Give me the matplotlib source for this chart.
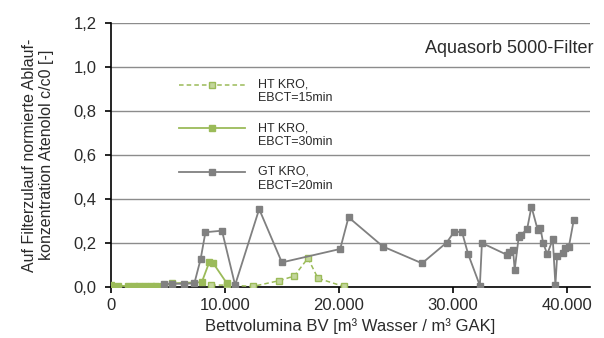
import matplotlib
matplotlib.use("Agg")
import numpy as np
import matplotlib.pyplot as plt
from matplotlib.ticker import FuncFormatter, MultipleLocator
from matplotlib.legend_handler import HandlerLine2D

# HT KRO, EBCT=15min (gestrichelt)
ht15_bv = [8800, 10200, 12460, 14760, 16080, 17280, 18160, 20400]
ht15_c = [0.010, 0.010, 0.004, 0.030, 0.051, 0.132, 0.041, 0.004]

# HT KRO, EBCT=30min
ht30_bv = [0, 600, 1500, 2000, 2500, 3000, 3500, 4000, 4600, 5350, 7980, 8650, 8950, 10180]
ht30_c = [0.012, 0.008, 0.005, 0.006, 0.005, 0.006, 0.005, 0.006, 0.008, 0.018, 0.023, 0.116, 0.112, 0.018]

# GT KRO, EBCT=20min
gt_bv = [4650, 5400, 6450, 7330, 7880, 8300, 9750, 10900, 13010, 15000, 20110, 20840,
         23860, 27280, 29440, 30110, 30790, 31320, 32350, 32530, 34740, 34940, 35260,
         35400, 35750, 35960, 36490, 36870, 37420, 37660, 37890, 38250, 38740, 38970,
         39120, 39610, 39850, 40140, 40580]
gt_c = [0.015, 0.016, 0.016, 0.018, 0.128, 0.250, 0.257, 0.010, 0.355, 0.113, 0.174, 0.318,
        0.185, 0.109, 0.203, 0.253, 0.250, 0.151, 0.008, 0.201, 0.147, 0.162, 0.170,
        0.079, 0.227, 0.238, 0.264, 0.366, 0.260, 0.268, 0.203, 0.150, 0.218, 0.010,
        0.142, 0.155, 0.177, 0.182, 0.306]

green = "#9bbb59"
grey = "#808080"
txt = "#2a2a2a"


class FirstLineHandler(HandlerLine2D):
    # Legendensymbol auf Hoehe der ersten Textzeile setzen
    def create_artists(self, legend, orig_handle, xdescent, ydescent,
                       width, height, fontsize, trans):
        arts = super().create_artists(legend, orig_handle, xdescent, ydescent,
                                      width, height, fontsize, trans)
        for a in arts:
            a.set_ydata(np.asarray(a.get_ydata(), dtype=float) + 0.55 * fontsize)
        return arts


plt.rcParams['font.family'] = ['Liberation Sans', 'DejaVu Sans']

fig = plt.figure(figsize=(6.04, 3.38), dpi=100)
ax = fig.add_axes([0.1833, 0.15, 0.7935, 0.782])

ax.plot(ht15_bv, ht15_c, color=green, lw=1.1, ls=(0, (3, 2)), marker="s", ms=4.5,
        mfc="#c3d69b", mec=green, mew=1.0, label="HT KRO,\nEBCT=15min", zorder=3)
ax.plot(ht30_bv, ht30_c, color=green, lw=1.3, marker="s", ms=5,
        mfc=green, mec=green, label="HT KRO,\nEBCT=30min", zorder=3)
ax.plot(gt_bv, gt_c, color=grey, lw=1.3, marker="s", ms=5,
        mfc=grey, mec=grey, label="GT KRO,\nEBCT=20min", zorder=4)

ax.set_xlim(0, 42000)
ax.set_ylim(0, 1.2)
ax.xaxis.set_major_locator(MultipleLocator(10000))
ax.yaxis.set_major_locator(MultipleLocator(0.2))
ax.xaxis.set_major_formatter(FuncFormatter(lambda v, p: f"{int(v):,}".replace(",", ".")))
ax.yaxis.set_major_formatter(FuncFormatter(lambda v, p: f"{v:.1f}".replace(".", ",")))

ax.yaxis.grid(True, color="#8c8c8c", lw=1.0)
ax.set_axisbelow(True)
for s in ["top", "right"]:
    ax.spines[s].set_visible(False)
for s in ["left", "bottom"]:
    ax.spines[s].set_color("black")
    ax.spines[s].set_linewidth(1.2)
ax.tick_params(axis="both", direction="out", length=4, width=1.2, labelsize=12,
               colors="black", labelcolor=txt)
ax.tick_params(axis="y", pad=6)

ax.set_xlabel("Bettvolumina BV [m³ Wasser / m³ GAK]", fontsize=12, color=txt, labelpad=4)
ax.set_ylabel("Auf Filterzulauf normierte Ablauf-\nkonzentration Atenolol c/c0 [-]",
              fontsize=11.5, color=txt, labelpad=14, linespacing=1.15)

ax.text(1.008, 0.905, "Aquasorb 5000-Filter", transform=ax.transAxes,
        ha="right", va="center", fontsize=13, color=txt)

leg = ax.legend(loc="upper left", bbox_to_anchor=(0.119, 0.832), frameon=False,
                fontsize=9, handlelength=5.3, labelspacing=1.42, handletextpad=1.0,
                handler_map={matplotlib.lines.Line2D: FirstLineHandler()})
for t in leg.get_texts():
    t.set_color(txt)

fig.savefig("out.png", dpi=100)
